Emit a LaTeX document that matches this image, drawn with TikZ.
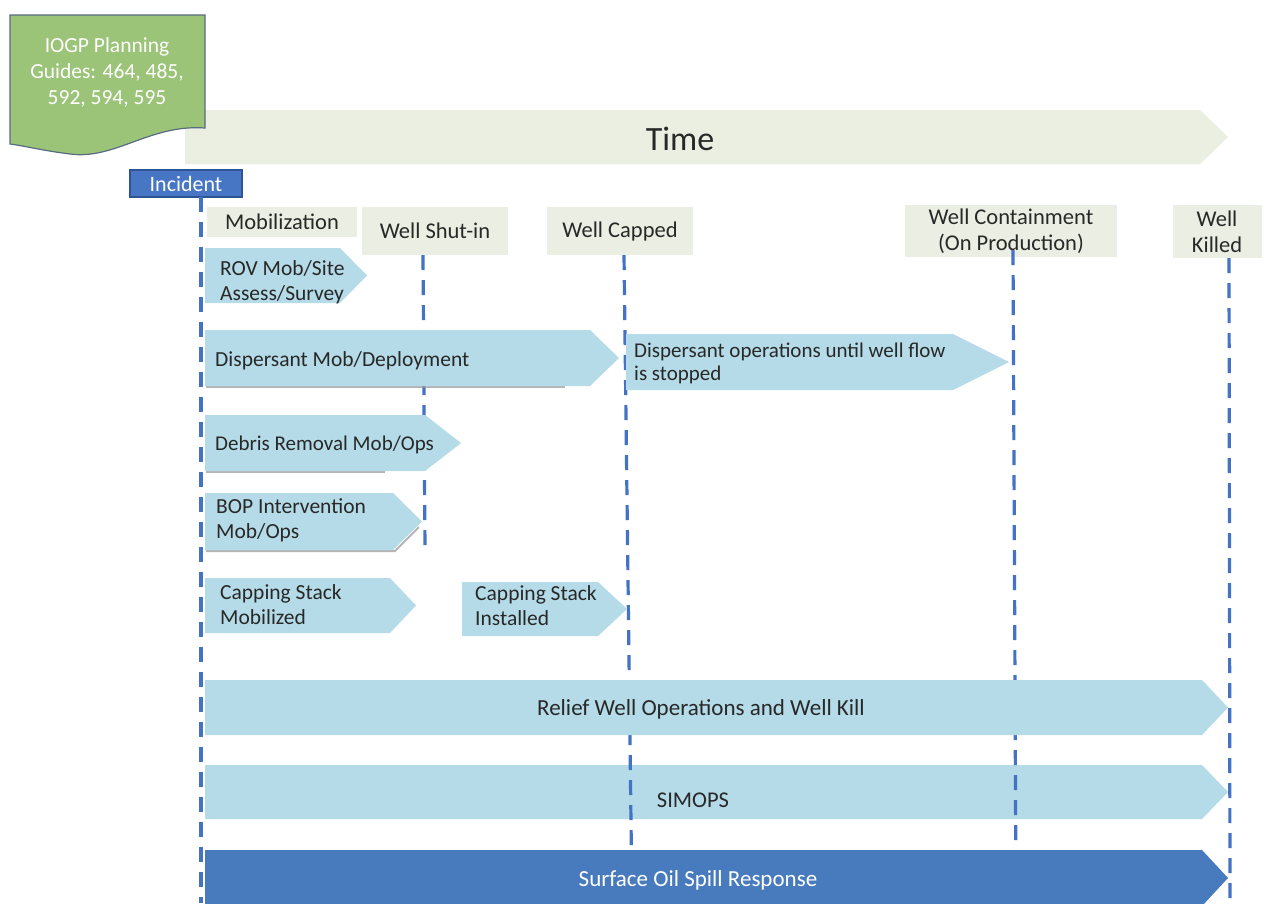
\documentclass[tikz,border=0pt]{standalone}
\usepackage{fontspec}
\setmainfont{Carlito}
\definecolor{txt}{RGB}{40,40,40}
\definecolor{phasebg}{RGB}{235,238,226}
\definecolor{timebg}{RGB}{234,239,225}
\definecolor{lightarrow}{RGB}{180,219,231}
\definecolor{darkarrow}{RGB}{72,123,190}
\definecolor{lineblue}{RGB}{68,114,196}
\definecolor{incfill}{RGB}{70,118,196}
\definecolor{incdraw}{RGB}{47,84,150}
\definecolor{docfill}{RGB}{155,196,121}
\definecolor{docdraw}{RGB}{88,108,128}
\definecolor{shadowc}{RGB}{150,150,150}
\newcommand{\blkarrow}[6]{\fill[#1] (#2,#3) -- (#4,#3) -- (#5,{(#3+#6)/2}) -- (#4,#6) -- (#2,#6) -- cycle;}
\begin{document}
\begin{tikzpicture}[x=1pt,y=-1pt,
  lbl/.style={font=\fontsize{21.5}{25}\selectfont, text=txt, inner sep=0pt, align=left},
  ctr/.style={font=\fontsize{22.5}{25}\selectfont, text=txt, inner sep=0pt, align=center},
  phase/.style={fill=phasebg, draw=none, font=\fontsize{22.5}{26}\selectfont, text=txt, align=center, inner sep=0pt},
  vline/.style={draw=lineblue, line width=3.2pt, dash pattern=on 15pt off 10pt},
  shadowline/.style={draw=shadowc, line width=2pt, opacity=0.7}]
\useasboundingbox[fill=white] (0,0) rectangle (1271,903);

% Time bar
\blkarrow{timebg}{185}{110}{1200}{1228}{164}
\node[font=\fontsize{34}{38}\selectfont, text=txt, inner sep=0pt] (time) at (680,139) {Time};

% IOGP document shape
\draw[fill=docfill, draw=docdraw, line width=1.2pt]
  (10,15) -- (205,15) -- (205,128)
  .. controls (150,124) and (115,160) .. (70,154)
  .. controls (45,151) and (25,146) .. (10,144) -- cycle;
\node[font=\fontsize{21.5}{26}\selectfont, text=white, align=center, inner sep=0pt] (iogp) at (107,72) {IOGP Planning\\Guides: 464, 485,\\592, 594, 595};

% Incident
\node[fill=incfill, draw=incdraw, line width=1.2pt, minimum width=112pt, minimum height=27pt, inner sep=0pt,
  font=\fontsize{22}{24}\selectfont, text=white] (inc) at (186,183.5) {Incident};

% Phase labels
\node[phase, minimum width=150pt, minimum height=30pt] (mob) at (282,222) {Mobilization};
\node[phase, minimum width=146pt, minimum height=48pt] (shut) at (435,231) {Well Shut-in};
\node[phase, minimum width=146pt, minimum height=48pt] (capped) at (620,231) {Well Capped};
\node[phase, minimum width=212pt, minimum height=52pt] (contain) at (1011,231) {Well Containment\\(On Production)};
\node[phase, minimum width=89pt, minimum height=53pt] (killed) at (1217,231.5) {Well\\Killed};

% SIMOPS (under the dashed lines)
\blkarrow{lightarrow}{205}{765}{1202}{1228}{819}
\node[ctr] (simops) at (693,800) {SIMOPS};

% Dashed time lines
\coordinate (incTop) at (201,197);
\coordinate (incBot) at (201,903);
\coordinate (shutBot) at (425,550);
\coordinate (capBot) at (632,903);
\coordinate (contBot) at (1016,903);
\coordinate (killBot) at (1230,903);
\draw[vline] (incTop) -- (incBot);
\draw[vline] (shut.south -| 423,0) -- (shutBot);
\draw[vline] (capped.south -| 624,0) -- (capBot);
\draw[vline] (1013,250) -- (contBot);
\draw[vline] (killed.south -| 1229,0) -- (killBot);

% Activity arrows
\blkarrow{lightarrow}{205}{248}{340}{367}{303}
\node[lbl, anchor=west] (rov) at (220,282) {ROV Mob/Site\\Assess/Survey};

\draw[shadowline] (206,387) -- (565,387);
\blkarrow{lightarrow}{205}{330}{590}{619}{386}
\node[lbl, anchor=west] (dmob) at (215,361) {Dispersant Mob/Deployment};

\blkarrow{lightarrow}{626}{334}{953}{1009}{390}
\node[lbl, anchor=west, font=\fontsize{21}{23}\selectfont] (dops) at (634,363.5) {Dispersant operations until well flow\\is stopped};

\draw[shadowline] (206,472) -- (385,472);
\blkarrow{lightarrow}{205}{415}{425}{461}{471}
\node[lbl, anchor=west, font=\fontsize{21}{25}\selectfont] (debris) at (215,445) {Debris Removal Mob/Ops};

\draw[shadowline] (206,551) -- (395,551) -- (419,527);
\blkarrow{lightarrow}{205}{493}{393}{422}{550}
\node[lbl, anchor=west] (bop) at (216,520.5) {BOP Intervention\\Mob/Ops};

\blkarrow{lightarrow}{205}{578}{390}{416}{633}
\node[lbl, anchor=west] (csm) at (220,605) {Capping Stack\\Mobilized};

\blkarrow{lightarrow}{462}{582}{598}{627}{636}
\node[lbl, anchor=west] (csi) at (475,605.5) {Capping Stack\\Installed};

\blkarrow{lightarrow}{205}{680}{1202}{1228}{735}
\node[ctr, font=\fontsize{23}{25}\selectfont] (relief) at (701,709) {Relief Well Operations and Well Kill};

\blkarrow{darkarrow}{205}{850}{1202}{1228}{906}
\node[ctr, text=white, font=\fontsize{23}{25}\selectfont] (surf) at (698,880) {Surface Oil Spill Response};
\end{tikzpicture}
\end{document}
